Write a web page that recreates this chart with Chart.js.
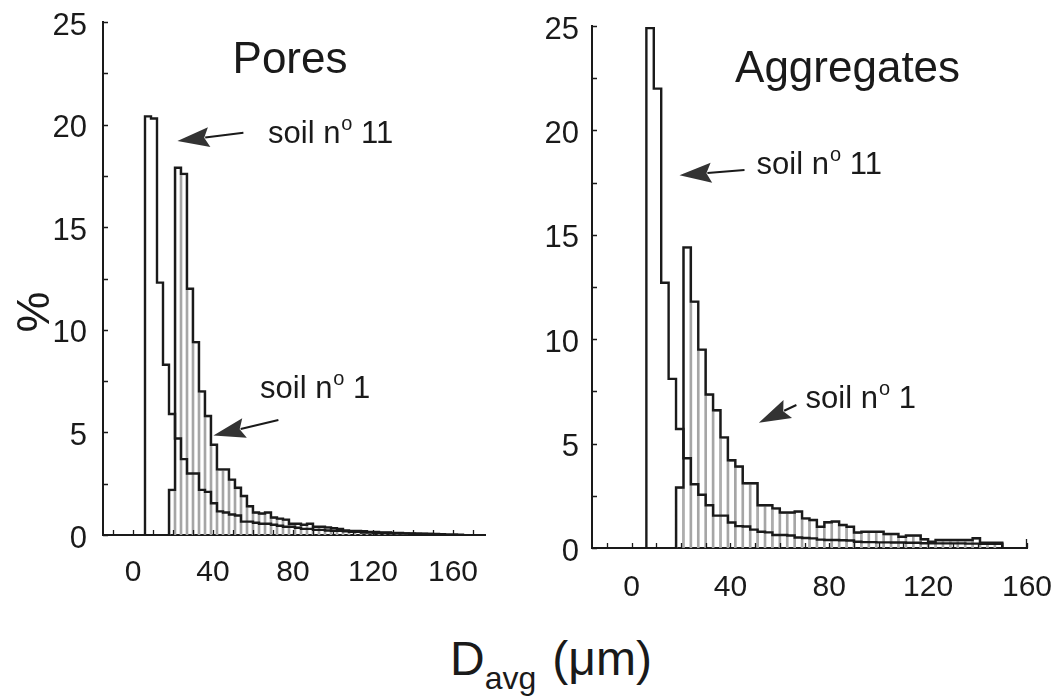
<!DOCTYPE html>
<html>
<head>
<meta charset="utf-8">
<script src="https://cdn.jsdelivr.net/npm/chart.js@4.4.1/dist/chart.umd.min.js"></script>
<style>
  body { margin: 0; background: #fff; width: 1056px; height: 700px; position: relative; overflow: hidden;
         font-family: "Liberation Sans", Arial, sans-serif; color: #1a1a1a; }
  #pores { position: absolute; left: 0; top: 0; }
  #aggr { position: absolute; left: 520px; top: 0; }
  #xlabel { position: absolute; left: 450px; top: 635px; font-size: 48px; line-height: 48px; white-space: nowrap; }
  #xlabel .sub { font-size: 32px; position: relative; top: 14px; }
  #xlabel .unit { margin-left: 16px; }
  #ylabel { position: absolute; left: 10px; top: 287px; width: 46px; height: 50px; font-size: 46px; line-height: 50px;
            text-align: center; transform: rotate(-90deg); }
</style>
</head>
<body>
<canvas id="pores" width="520" height="600"></canvas>
<canvas id="aggr" width="536" height="600"></canvas>
<div id="ylabel">%</div>
<div id="xlabel">D<span class="sub">avg</span><span class="unit">(μm)</span></div>
<script>
// histogram bins are 3 µm wide, values in %
const binWidth = 3;

// Pores panel
const poresSoil11Start = 6;
const poresSoil11 = [20.4, 20.3, 12.3, 8.3, 5.9, 4.7, 3.7, 3.0, 3.0, 2.2, 2.1, 1.55, 1.15, 1.1, 1.0, 0.95,
  0.65, 0.65, 0.6, 0.55, 0.55, 0.5, 0.45, 0.4, 0.4, 0.35, 0.3, 0.3, 0.25, 0.25, 0.22, 0.2, 0.2, 0.18,
  0.15, 0.15, 0.12, 0.12, 0.1, 0.1, 0.1, 0.08, 0.08, 0.08, 0.06, 0.06, 0.05, 0.05, 0.04, 0.04, 0.03, 0.03, 0.02];
const poresSoil1Start = 18;
const poresSoil1 = [2.2, 17.9, 17.6, 12.0, 9.4, 7.0, 5.8, 4.4, 3.2, 3.2, 2.7, 2.3, 1.9, 1.4, 1.1, 1.05,
  1.1, 0.85, 0.8, 0.75, 0.55, 0.55, 0.5, 0.55, 0.4, 0.4, 0.37, 0.33, 0.3, 0.22, 0.2, 0.2, 0.18, 0.15,
  0.15, 0.12, 0.12, 0.1, 0.1, 0.08, 0.08, 0.06, 0.06, 0.05, 0.05];

// Aggregates panel
const aggrSoil11Start = 6;
const aggrSoil11 = [24.9, 22.0, 12.7, 8.1, 5.7, 4.3, 3.05, 2.55, 2.05, 1.55, 1.55, 1.22, 1.05, 1.03, 0.88,
  0.78, 0.75, 0.62, 0.62, 0.6, 0.5, 0.48, 0.46, 0.4, 0.38, 0.38, 0.37, 0.36, 0.3, 0.28, 0.28, 0.27, 0.27,
  0.26, 0.26, 0.25, 0.25, 0.23, 0.22, 0.22, 0.22, 0.22, 0.22, 0.21, 0.21, 0.2, 0.2, 0.2];
const aggrSoil1Start = 18;
const aggrSoil1 = [2.9, 14.4, 11.8, 9.5, 7.35, 6.6, 5.3, 4.2, 3.9, 3.1, 3.1, 2.05, 2.05, 1.9, 1.7, 1.7,
  1.75, 1.42, 1.34, 1.02, 1.23, 1.27, 1.1, 1.02, 0.74, 0.78, 0.78, 0.78, 0.67, 0.67, 0.54, 0.6, 0.6,
  0.42, 0.3, 0.38, 0.38, 0.38, 0.38, 0.38, 0.47, 0.25, 0.25, 0.25];

// axis ticks
const yTickLabels = [0, 5, 10, 15, 20, 25];
const xTickLabels = [0, 40, 80, 120, 160];

const FONT = '"Liberation Sans", Arial, sans-serif';
const INK = '#1a1a1a';

// outline of a histogram as points for a stepped line
function stepPoints(start, values) {
  const pts = [{ x: start, y: 0 }];
  values.forEach((v, i) => pts.push({ x: start + i * binWidth, y: v }));
  pts.push({ x: start + values.length * binWidth, y: 0 });
  return pts;
}
function barPoints(start, values) {
  return values.map((v, i) => ({ x: start + i * binWidth + binWidth / 2, y: v }));
}

// small ticks drawn inside the axes
const innerTicks = {
  id: 'innerTicks',
  afterDatasetsDraw(chart, args, opts) {
    const { ctx, chartArea: a, scales: { x, y } } = chart;
    ctx.save();
    ctx.strokeStyle = INK;
    ctx.lineWidth = 1.3;
    ctx.beginPath();
    for (let v = 0; v <= y.max + 1e-6; v += 2.5) {
      const py = Math.round(y.getPixelForValue(v)) + 0.5;
      ctx.moveTo(a.left, py); ctx.lineTo(a.left + 5, py);
    }
    for (let v = Math.ceil(x.min / 10) * 10; v <= x.max; v += 10) {
      const px = Math.round(x.getPixelForValue(v)) + 0.5;
      ctx.moveTo(px, a.bottom); ctx.lineTo(px, a.bottom - 5);
    }
    if (opts.endTick) {
      ctx.moveTo(a.right - 0.5, a.bottom); ctx.lineTo(a.right - 0.5, a.bottom - 9);
    }
    ctx.stroke();
    ctx.restore();
  }
};

// panel title, labels and arrows (placed in data coordinates)
const notes = {
  id: 'notes',
  afterDraw(chart, args, opts) {
    const { ctx, scales: { x, y } } = chart;
    ctx.save();
    ctx.fillStyle = INK;
    ctx.font = '44px ' + FONT;
    ctx.textAlign = 'center';
    ctx.textBaseline = 'alphabetic';
    ctx.fillText(opts.title, x.getPixelForValue(opts.titleAt[0]), y.getPixelForValue(opts.titleAt[1]));

    opts.labels.forEach(l => {
      const tx = x.getPixelForValue(l.tip[0]), ty = y.getPixelForValue(l.tip[1]);
      const sx = x.getPixelForValue(l.tail[0]), sy = y.getPixelForValue(l.tail[1]);
      const ang = Math.atan2(ty - sy, tx - sx);
      const headLen = 32, headW = 10;
      const bx = tx - headLen * Math.cos(ang), by = ty - headLen * Math.sin(ang);
      ctx.strokeStyle = INK;
      ctx.lineWidth = 2;
      ctx.beginPath(); ctx.moveTo(sx, sy); ctx.lineTo(bx + 4 * Math.cos(ang), by + 4 * Math.sin(ang)); ctx.stroke();
      ctx.beginPath();
      ctx.moveTo(tx, ty);
      ctx.lineTo(bx + headW * Math.sin(ang), by - headW * Math.cos(ang));
      ctx.lineTo(bx + 5 * Math.cos(ang), by + 5 * Math.sin(ang));
      ctx.lineTo(bx - headW * Math.sin(ang), by + headW * Math.cos(ang));
      ctx.closePath();
      ctx.fillStyle = '#333';
      ctx.fill();

      // "soil nº N"
      let px = x.getPixelForValue(l.at[0]);
      const py = y.getPixelForValue(l.at[1]);
      ctx.fillStyle = INK;
      ctx.textAlign = 'left';
      ctx.font = '31px ' + FONT;
      ctx.fillText('soil n', px, py);
      px += ctx.measureText('soil n').width + 1;
      ctx.font = '20px ' + FONT;
      ctx.fillText('o', px, py - 13);
      px += ctx.measureText('o').width;
      ctx.font = '31px ' + FONT;
      ctx.fillText(' ' + l.text, px, py);
    });
    ctx.restore();
  }
};

function makeChart(id, p) {
  const ctx = document.getElementById(id).getContext('2d');
  return new Chart(ctx, {
    type: 'bar',
    data: {
      datasets: [
        { type: 'line', data: stepPoints(p.s11Start, p.s11), stepped: true, borderColor: INK,
          borderWidth: 2.4, pointRadius: 0, fill: false, order: 1 },
        { type: 'line', data: stepPoints(p.s1Start, p.s1), stepped: true, borderColor: INK,
          borderWidth: 2.4, pointRadius: 0, fill: false, order: 1 },
        { type: 'bar', data: barPoints(p.s1Start, p.s1), backgroundColor: 'rgba(0,0,0,0)',
          borderColor: '#a6a6a6', borderWidth: 1, barPercentage: 1, categoryPercentage: 1, order: 2 }
      ]
    },
    options: {
      responsive: false,
      animation: false,
      devicePixelRatio: 1,
      layout: { padding: { top: p.top, right: p.right, left: 0, bottom: 0 } },
      plugins: {
        legend: { display: false },
        tooltip: { enabled: false },
        innerTicks: { endTick: p.endTick },
        notes: p.notes
      },
      scales: {
        x: {
          type: 'linear', min: p.xMin, max: p.xMax, offset: false,
          grid: { display: false },
          border: { display: true, color: INK, width: 2 },
          afterBuildTicks: s => { s.ticks = xTickLabels.map(v => ({ value: v })); },
          afterFit: s => { s.height = p.xHeight; s.paddingLeft = 0; s.paddingRight = 0; },
          ticks: { autoSkip: false, maxRotation: 0, padding: p.xPad, color: INK,
                   font: { family: FONT, size: 30 } }
        },
        y: {
          min: 0, max: 25,
          grid: { display: false },
          border: { display: true, color: INK, width: 2 },
          afterBuildTicks: s => { s.ticks = yTickLabels.map(v => ({ value: v })); },
          afterFit: s => { s.width = p.yWidth; s.paddingTop = 0; s.paddingBottom = 0; },
          ticks: { padding: p.yPad, color: INK, labelOffset: 4, font: { family: FONT, size: 31 } }
        }
      }
    },
    plugins: [innerTicks, notes]
  });
}

makeChart('pores', {
  s11Start: poresSoil11Start, s11: poresSoil11, s1Start: poresSoil1Start, s1: poresSoil1,
  xMin: -15, xMax: 176, top: 22, right: 35, yWidth: 103, xHeight: 65, xPad: 12, yPad: 8, endTick: false,
  notes: {
    title: 'Pores', titleAt: [78.5, 22.5],
    labels: [
      { text: '11', at: [67.5, 19.1], tip: [22.2, 19.2], tail: [55.2, 19.6] },
      { text: '1', at: [63.5, 6.7], tip: [40.2, 4.85], tail: [72.7, 5.6] }
    ]
  }
});

makeChart('aggr', {
  s11Start: aggrSoil11Start, s11: aggrSoil11, s1Start: aggrSoil1Start, s1: aggrSoil1,
  xMin: -16, xMax: 160, top: 26, right: 29, yWidth: 72, xHeight: 52, xPad: 14, yPad: 5, endTick: true,
  notes: {
    title: 'Aggregates', titleAt: [87.4, 22.3],
    labels: [
      { text: '11', at: [50.6, 17.9], tip: [19.4, 17.85], tail: [45.7, 18.1] },
      { text: '1', at: [70.4, 6.7], tip: [51.5, 6.0], tail: [66.7, 6.85] }
    ]
  }
});
</script>
</body>
</html>
